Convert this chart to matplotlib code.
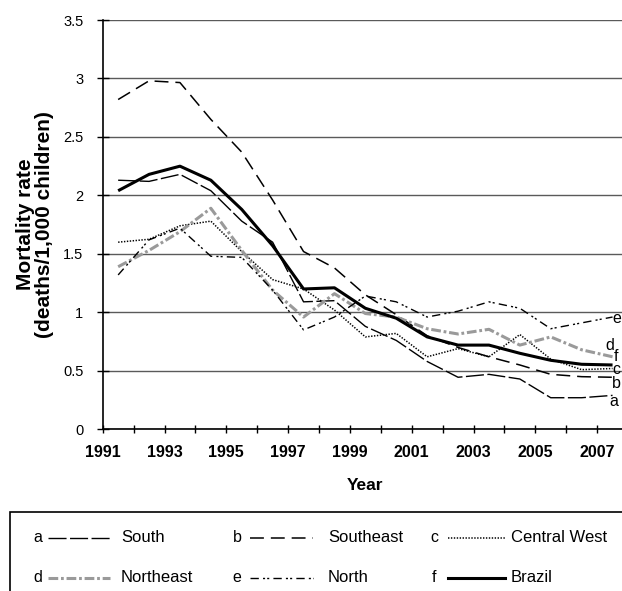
import matplotlib
matplotlib.use("Agg")
import matplotlib.pyplot as plt
from matplotlib.lines import Line2D
from matplotlib.patches import Rectangle
import numpy as np

plt.rcParams['font.family'] = ['Liberation Sans', 'DejaVu Sans']
plt.rcParams['lines.scale_dashes'] = False

years = list(range(1991, 2008))
south = [2.13, 2.12, 2.18, 2.04, 1.78, 1.60, 1.09, 1.10, 0.88, 0.76, 0.58, 0.445, 0.47, 0.43, 0.27, 0.27, 0.29]
southeast = [2.82, 2.98, 2.965, 2.65, 2.37, 1.96, 1.52, 1.38, 1.15, 0.98, 0.80, 0.70, 0.62, 0.55, 0.47, 0.45, 0.445]
central_west = [1.60, 1.625, 1.74, 1.78, 1.52, 1.28, 1.20, 1.02, 0.79, 0.82, 0.62, 0.69, 0.62, 0.81, 0.60, 0.51, 0.52]
northeast = [1.39, 1.53, 1.69, 1.89, 1.53, 1.19, 0.96, 1.16, 0.99, 0.96, 0.86, 0.815, 0.855, 0.72, 0.79, 0.68, 0.62]
north = [1.32, 1.62, 1.72, 1.48, 1.47, 1.19, 0.85, 0.96, 1.14, 1.09, 0.96, 1.01, 1.09, 1.035, 0.86, 0.91, 0.96]
brazil = [2.04, 2.18, 2.25, 2.13, 1.88, 1.57, 1.20, 1.21, 1.035, 0.95, 0.79, 0.72, 0.72, 0.65, 0.59, 0.556, 0.55]

letters = ['a', 'b', 'c', 'd', 'e', 'f']
names = ['South', 'Southeast', 'Central West', 'Northeast', 'North', 'Brazil']
yticks = [0, 0.5, 1, 1.5, 2, 2.5, 3, 3.5]
ytick_labels = ['0', '0.5', '1', '1.5', '2', '2.5', '3', '3.5']
xtick_labels = ['1991', '1993', '1995', '1997', '1999', '2001', '2003', '2005', '2007']

series = [south, southeast, central_west, northeast, north, brazil]
styles = [
    dict(color='black', lw=1.0, dashes=(13, 2.5)),
    dict(color='black', lw=1.1, dashes=(10, 5)),
    dict(color='black', lw=1.1, dashes=(1.0, 1.1)),
    dict(color='#9a9a9a', lw=2.2, dashes=(7, 2, 2, 2)),
    dict(color='black', lw=1.0, dashes=(6, 3, 1.5, 1.5, 1.5, 3)),
    dict(color='black', lw=2.2, linestyle='-'),
]
# end-label offsets (points) relative to each series' last point
label_offsets = [(1.0, -4.5), (3.0, -4.5), (3.0, -0.7), (-2.3, 8.0), (3.0, -1.4), (2.5, 6.0)]

W, H = 622, 591
fig = plt.figure(figsize=(W / 100, H / 100), dpi=100)
left_px, spine_px, top_px = 102.7, 429.3, 20.0
unit_x = 30.9
ax = fig.add_axes([left_px / W, (H - spine_px) / H, 17 * unit_x / W, (spine_px - top_px) / H])

xs = np.array(years) + 0.5
for vals, st, let, off in zip(series, styles, letters, label_offsets):
    ax.plot(xs, vals, solid_capstyle='butt', dash_capstyle='butt', **st, zorder=3)
    ax.annotate(let, xy=(xs[-1], vals[-1]), xytext=off, textcoords='offset points',
                fontsize=11.5, ha='center', va='center', annotation_clip=False, zorder=4)

ax.set_xlim(1991, 2008)
ax.set_ylim(0, 3.5)
ax.set_yticks(yticks)
ax.set_yticklabels(ytick_labels, fontsize=10.5)
ax.set_xticks(range(1991, 2009))
ax.set_xticklabels([str(y) if str(y) in xtick_labels else '' for y in range(1991, 2009)],
                   fontsize=11.5, fontweight='bold')
ax.tick_params(axis='x', direction='inout', length=6, width=1, pad=8)
ax.tick_params(axis='y', direction='inout', length=8, width=1, pad=10)
ax.grid(axis='y', color='#5a5a5a', lw=1.0)
ax.set_axisbelow(True)
for s in ['top', 'right']:
    ax.spines[s].set_visible(False)
for s in ['left', 'bottom']:
    ax.spines[s].set_linewidth(1.2)

# axis titles
fig.text(365.5 / W, (H - 485) / H, 'Year', fontsize=12.5, fontweight='bold', ha='center', va='center')
fig.text(35 / W, (H - 224.6) / H, 'Mortality rate\n(deaths/1,000 children)', fontsize=15,
         fontweight='bold', rotation=90, ha='center', va='center', multialignment='center',
         linespacing=1.0)

# Legend box (extends beyond figure edge)
fig.add_artist(Rectangle((10 / W, -0.1), 1.2, (H + 0.1 * H - 512) / H, transform=fig.transFigure,
                         fill=False, edgecolor='black', lw=1.2, clip_on=False))
rows_y = [538, 578]
cols = [(38, 48, 110, 121), (237, 250, 313, 328), (434, 448, 505, 511)]
for i, (let, name, st) in enumerate(zip(letters, names, styles)):
    r, c = divmod(i, 3)
    yy = (H - rows_y[r]) / H
    lx, x0, x1, tx = cols[c]
    fig.text(lx / W, yy, let, fontsize=11.5, ha='center', va='center')
    fig.add_artist(Line2D([x0 / W, x1 / W], [yy, yy], transform=fig.transFigure, **st))
    fig.text(tx / W, yy, name, fontsize=12, ha='left', va='center')

fig.savefig('out.png', dpi=100)
